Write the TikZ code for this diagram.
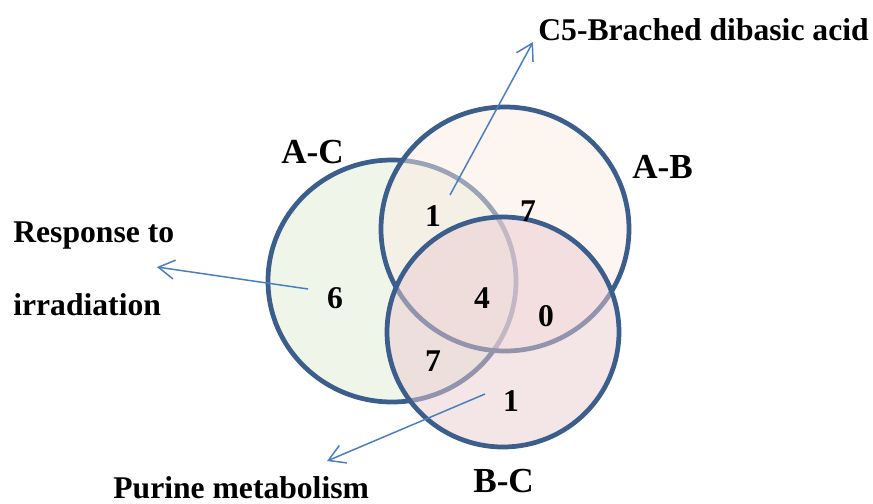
\documentclass[tikz,border=0pt]{standalone}
\usepackage{fontspec}
\setmainfont{Liberation Serif}
\usepackage{tikz}
\usetikzlibrary{arrows.meta, positioning}

\definecolor{ringblue}{RGB}{59,94,140}
\definecolor{arrowblue}{RGB}{74,126,193}
\definecolor{acfill}{RGB}{225,235,213}
\definecolor{abfill}{RGB}{251,235,225}
\definecolor{bcfill}{RGB}{233,203,207}

\begin{document}
\begin{tikzpicture}[x=0.02cm, y=-0.02cm, font=\bfseries,
    ring/.style={draw=ringblue, line width=2.7pt, fill opacity=0.5},
    num/.style={anchor=base, inner sep=0pt, font=\fontsize{18}{20}\selectfont\bfseries},
    setlbl/.style={anchor=base west, inner sep=0pt, font=\fontsize{20}{22}\selectfont\bfseries},
    pathlbl/.style={anchor=base west, inner sep=0pt, font=\fontsize{18}{20}\selectfont\bfseries},
    arr/.style={draw=arrowblue, line width=0.85pt, -{Straight Barb[length=3.2mm, width=3.8mm]}}
]
    \useasboundingbox (0,0) rectangle (873,504);
    % the three sets
    \draw[ring, fill=acfill] (392,281) ellipse [x radius=124, y radius=121];
    \draw[ring, fill=abfill] (505,229) ellipse [x radius=124, y radius=122];
    \draw[ring, fill=bcfill] (503,332) ellipse [x radius=116, y radius=115];

    \node[setlbl] (ac) at (281,163) {A-C};
    \node[setlbl] (ab) at (632,178) {A-B};
    \node[setlbl] (bc) at (473,492) {B-C};

    % counts
    \node[num] (nac) at (335,308) {6};
    \node[num] (nacab) at (433,226) {1};
    \node[num] (nab) at (528,221) {7};
    \node[num] (nall) at (482,308) {4};
    \node[num] (nabbc) at (546,326) {0};
    \node[num] (nacbc) at (433,371) {7};
    \node[num] (nbc) at (511,411) {1};

    % pathways
    \node[pathlbl] (c5) at (538,40) {C5-Brached dibasic acid};
    \node[pathlbl] (resp) at (13,242) {Response to};
    \node[pathlbl] (irr) at (13,315) {irradiation};
    \node[pathlbl] (pur) at (113,498) {Purine metabolism};

    \coordinate (c5from) at (450,195);
    \coordinate (c5tip) at (533,42);
    \coordinate (respfrom) at (308,289);
    \coordinate (resptip) at (157,267);
    \coordinate (purfrom) at (485,394);
    \coordinate (purtip) at (327,461);

    \draw[arr] (c5from) -- (c5tip);
    \draw[arr] (respfrom) -- (resptip);
    \draw[arr] (purfrom) -- (purtip);
\end{tikzpicture}
\end{document}
